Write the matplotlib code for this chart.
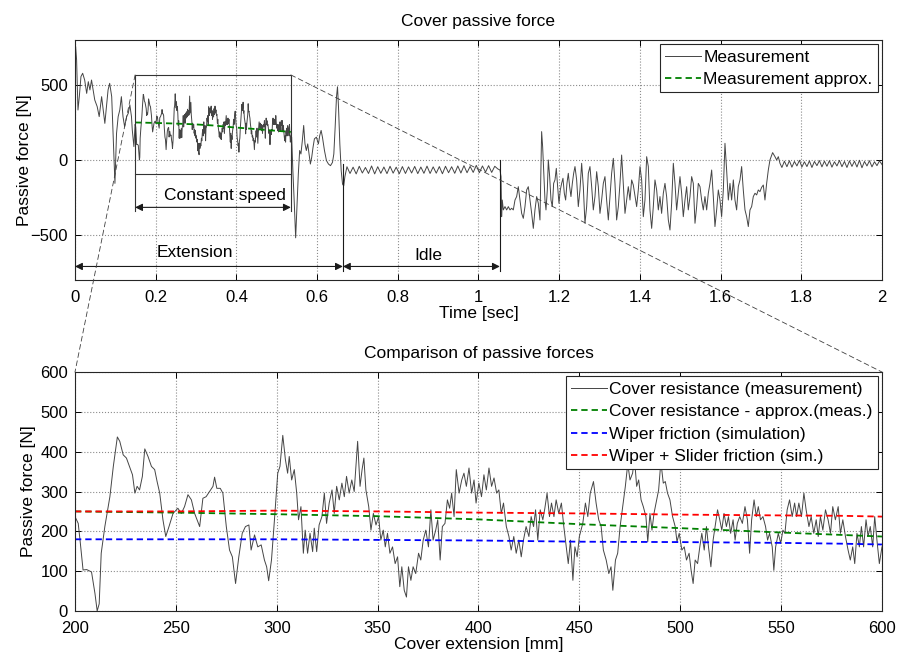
import numpy as np
import matplotlib
matplotlib.use('Agg')
import matplotlib.pyplot as plt
from matplotlib.patches import Rectangle, ConnectionPatch

plt.rcParams['font.family'] = ['Liberation Sans', 'DejaVu Sans']
plt.rcParams['font.size'] = 12

# ---------------- bottom chart data (cover extension [mm] vs force [N]) ----------------
ext_mm = [200, 201.6, 202.5, 204, 205.8, 208.2, 209.9, 211, 212, 213, 214.8, 217.3, 219, 221, 222.2, 223.9,
          225.5, 227, 228.5, 229.7, 230.8, 232, 233.4, 234.6, 236.2, 237.9, 239.5, 240.7, 242, 243.6, 245,
          246.6, 248.6, 251, 252.7, 254.3, 256, 257.7, 259.3, 261.8, 263.4, 265, 266.7, 268.4, 269.2, 270.3,
          272, 273.3, 275, 276.6, 278, 279.6, 281.2, 282.9, 284.5, 286.2, 287.3, 289, 290.6, 292.3, 293.9,
          295, 296, 297.4, 298.8, 300.5, 301.6, 303, 304.3, 305.4, 306.2, 307.4, 308.7, 309.9, 310.8, 312,
          313.2, 314.1, 315.3, 316.5, 317.8, 318.6, 319.8, 321, 322.4, 323.6, 324.7, 326, 327.4, 328.5, 329.7,
          331, 332.3, 333.5, 334.6, 335.9, 337.2, 338.4,
          340.1, 341.3, 342.3, 343.2, 344.2, 345.6, 346.7, 347.9, 349.2, 350.5, 351.6, 352.8, 353.8, 354.9,
          356.1, 357.4, 358.7, 359.9, 361, 362, 363.2, 364.3, 365.3, 366.5, 367.6, 368.9, 370.3, 371.4, 372.6,
          373.9, 375.2, 376.4, 377.5, 378.8, 379.8, 381, 382.1, 383.4, 384.6, 385.7, 386.7, 387.9, 389, 390.4,
          391.7, 392.8, 394, 395.3, 396.6, 397.8, 398.8, 400.2, 401.5, 402.7, 403.9, 405.2, 406.5, 407.7, 409,
          410.1, 411.3, 412.4, 413.8, 415.1, 416.2, 417.5, 418.7, 420, 421.2, 422.3, 423.6, 425, 426.1, 427.3,
          428.3, 429.4, 430.6, 431.9, 432.9, 434, 435.2, 436.2, 437.4, 438.5, 439.8, 441.1, 442.3, 443.5, 444.5,
          445.6, 446.8, 447.8, 448.9, 450,
          451.7, 453, 454.2, 455.4, 457, 458.3, 459.6, 460.8, 461.9, 463.3, 464.6, 465.7, 466.6, 467.9, 469,
          470.2, 471.5, 472.8, 474, 475.1, 476.4, 477.3, 478.4, 479.4, 480.6, 481.7, 483, 483.9, 485, 486, 487,
          488, 489.3, 490.4, 491.6, 492.6, 493.7, 494.9, 496.2, 497.5, 498.4, 499.5, 500.8, 502, 503.1, 504.4,
          505.4, 506.4, 507.4, 508.6, 509.7, 510.7, 511.9, 513, 514, 515.2, 516.3, 517.3, 518.5, 519.6, 520.6,
          521.7, 522.9, 523.9, 525, 526.2, 527.2, 528.3, 529.5, 530.8, 532.1, 533.3, 534.4, 535.4, 536.6, 537.7,
          538.7, 539.8, 541, 542.3, 543.3, 544.3, 545.6, 546.4, 547.3, 548.6, 549.8, 550.9, 551.9, 553, 554.2,
          555.5, 556.7, 557.7, 558.8, 560.1, 561.3, 562.4, 563.8, 564.9, 566.2, 567.4, 568.4, 569.5, 570.7, 572,
          573.3, 574.5, 575.6, 576.9, 578.3, 579.4, 580.6, 581.9, 583.2, 584.3, 585.5, 586.5, 587.6, 588.8,
          589.8, 590.9, 592.1, 593.1, 594.2, 595.4, 596.4, 597.5, 598.7, 600]
ext_force = [237, 220, 178, 103, 104, 98, 44, 0, 18, 145, 212, 287, 363, 437, 426, 392,
             384, 363, 342, 296, 313, 304, 338, 407, 388, 363, 355, 325, 296, 229, 187,
             212, 245, 258, 245, 262, 292, 279, 245, 212, 283, 287, 300, 313, 336, 308,
             308, 296, 212, 153, 136, 69, 136, 195, 212, 216, 153, 191, 161, 166, 128,
             111, 76, 128, 224, 346, 363, 441, 380, 346, 388, 329, 355, 296, 229, 262,
             145, 203, 145, 195, 149, 208, 149, 216, 237, 296, 220, 271, 304, 245, 313,
             279, 321, 287, 338, 296, 329, 300,
             426, 313, 355, 384, 304, 262, 203, 245, 216, 237, 178, 203, 161, 195,
             145, 161, 119, 136, 61, 111, 52, 35, 111, 77, 111, 94, 145, 128, 178,
             203, 161, 254, 178, 203, 229, 128, 212, 220, 279, 258, 296, 237, 355, 296,
             329, 346, 313, 359, 296, 329, 271, 321, 287, 342, 304, 359, 313, 334, 296,
             304, 245, 271, 212, 187, 153, 187, 145, 178, 136, 178, 212, 187, 237, 212,
             254, 178, 254, 229, 258, 296, 237, 271, 237, 279, 245, 271, 212, 161, 119,
             178, 77, 161, 136, 187,
             220, 271, 237, 296, 325, 271, 229, 212, 153, 128, 94, 111, 52, 128, 145,
             212, 262, 313, 370, 329, 346, 385, 313, 329, 279, 262, 237, 174, 245, 203, 245,
             271, 304, 375, 321, 325, 296, 279, 237, 212, 174, 195, 153, 161, 128, 145,
             102, 69, 128, 119, 161, 195, 153, 212, 161, 111, 178, 212, 254, 229, 203,
             245, 212, 237, 195, 229, 178, 220, 237, 220, 262, 229, 145, 229, 279, 237,
             262, 229, 237, 212, 178, 195, 161, 102, 161, 195, 170, 203, 195, 254, 279,
             237, 271, 237, 271, 237, 296, 254, 212, 237, 195, 229, 187, 237, 203, 254,
             229, 195, 262, 229, 262, 195, 229, 187, 153, 128, 161, 119, 195, 161,
             212, 161, 229, 187, 212, 161, 237, 178, 119, 161]

approx_mm = [200, 250, 300, 350, 400, 450, 500, 550, 600]
approx_force = [250, 247, 243, 238, 230, 218, 208, 197, 187]
wiper_mm = [200, 300, 400, 450, 500, 550, 580, 600]
wiper_force = [180, 180, 177, 174, 173, 171, 169, 167]
slider_mm = [200, 250, 300, 350, 400, 450, 500, 550, 580, 600]
slider_force = [250, 250, 252, 250, 247, 245, 242, 240, 239, 237]

# ---------------- top chart data (time [s] vs force [N]) ----------------
start_t = [0.000, 0.0016, 0.004, 0.0074, 0.0107, 0.0148, 0.019, 0.024, 0.029, 0.033, 0.037, 0.041, 0.045,
           0.049, 0.055, 0.060, 0.066, 0.070, 0.074, 0.078, 0.082, 0.086, 0.091, 0.095, 0.099, 0.103, 0.107,
           0.111, 0.115, 0.119, 0.123, 0.128, 0.132, 0.136, 0.140, 0.142, 0.146]
start_f = [500, 756, 667, 333, 422, 556, 578, 533, 444, 522, 467, 533, 467,
           400, 356, 289, 422, 333, 244, 356, 467, 511, 422, 133, -156, 178, 289,
           333, 422, 289, 222, 289, 311, 367, 289, 200, 89]

stop_t = [0.537, 0.540, 0.5436, 0.5469, 0.550, 0.5535, 0.5568, 0.560, 0.5635, 0.5668, 0.570, 0.5734, 0.5768,
          0.580, 0.5834, 0.5867, 0.590, 0.5934, 0.5983, 0.6033, 0.6066, 0.610, 0.6133, 0.6183, 0.6232, 0.6282,
          0.6332, 0.6382, 0.6415, 0.6448, 0.6481, 0.6506, 0.6531, 0.6564, 0.6598, 0.6631, 0.666, 0.669]
stop_f = [152, -72, -295, -519, -318, -94, 63, 40, 130, 230, 107, 63, 107,
          40, -27, 18, 85, 141, 152, 107, 163, 197, 152, 63, -4, -27,
          -38, -16, 40, 219, 421, 488, 353, 107, -72, -161, -173, -110]

idle_f = [-45, -90, -48, -93, -42, -87, -50, -90, -40, -93, -45, -89, -47, -91, -42, -88, -48, -92, -44, -90,
          -46, -87, -43, -91, -47, -89, -41, -90, -46, -88, -44, -92, -42, -85, -45, -89, -40, -87, -38, -85,
          -43, -83, -36, -85, -40, -81, -38, -83, -42, -60]

retract_t = [1.0533, 1.0558, 1.0574, 1.059, 1.0615, 1.0657, 1.0698, 1.074, 1.0781, 1.0822, 1.0863, 1.0905,
             1.0946, 1.0987, 1.1028, 1.107, 1.1111, 1.1152, 1.1194, 1.1235, 1.1276, 1.1318, 1.1359, 1.14,
             1.1442, 1.1483, 1.1524, 1.1565, 1.159, 1.1623, 1.1648, 1.1673, 1.1706, 1.1731, 1.1764, 1.1797,
             1.183, 1.1863, 1.1896, 1.1929, 1.1962, 1.1995, 1.2028, 1.2061, 1.2094, 1.2127, 1.216, 1.2193,
             1.2226, 1.2259, 1.2292, 1.2326, 1.2359, 1.2392, 1.2433, 1.2474, 1.2515, 1.2557, 1.2598, 1.2639,
             1.2681, 1.2722, 1.2763, 1.2805, 1.2846, 1.2887, 1.2929, 1.297, 1.3011, 1.3052, 1.3094, 1.3135,
             1.3176, 1.3218, 1.3259, 1.33, 1.3342, 1.3383, 1.3424, 1.3466, 1.3507, 1.3548, 1.3589, 1.3631,
             1.3672, 1.3713, 1.3755, 1.3796, 1.3837,
             1.3920, 1.3961, 1.4003, 1.4044, 1.4085, 1.4126, 1.4168, 1.4209, 1.425, 1.4292, 1.4333, 1.4374,
             1.4416, 1.4457, 1.4498, 1.4539, 1.4581, 1.4622, 1.4663, 1.4705, 1.4746, 1.4787, 1.4829, 1.487,
             1.4911, 1.4953, 1.4994, 1.5035, 1.5076, 1.5118, 1.5159, 1.52, 1.5242, 1.5283, 1.5324, 1.5366,
             1.5407, 1.5448, 1.549, 1.5531, 1.5572, 1.5613, 1.5655, 1.5696, 1.5737, 1.5779, 1.582, 1.5861,
             1.5903, 1.5944, 1.5985, 1.6026, 1.6068, 1.6109, 1.615, 1.6192, 1.6233, 1.6274, 1.6316, 1.6357,
             1.6398, 1.6439, 1.6481, 1.6522, 1.6563, 1.6605, 1.6646, 1.6687, 1.6729, 1.677, 1.6811, 1.6853,
             1.6894, 1.6935, 1.6976, 1.7018, 1.7059, 1.71, 1.7142, 1.7183, 1.7224, 1.729, 1.7348, 1.739,
             1.7431, 1.7472]
retract_f = [-67, -111, -378, -267, -333, -311, -333, -311, -333, -322, -333, -267,
             -244, -178, -267, -356, -389, -311, -200, -178, -267, -356, -456, -333,
             -244, -289, -400, 189, 89, -111, -267, -333, -200, 0, -111, -267,
             -311, -156, -133, -56, -178, -289, -200, -156, -122, -222, -267, -156,
             -89, -178, -244, -156, -89, -44, -133, -311, -200, -22, -178, -422,
             -311, -89, -44, -178, -333, -244, -78, -178, -356, -267, -156, -111,
             -267, -400, -244, -89, 11, -156, -400, -311, -156, 33, -156, -356,
             -267, -178, -267, -133, -167,
             -311, -200, -44, -133, -378, -267, 22, -44, -333, -456, -311, -133,
             -200, -333, -244, -356, -222, -156, -244, -400, -467, -289, -22, -156,
             -333, -222, -111, -222, -378, -267, -178, -333, -244, -111, -156, -422,
             -311, -156, -178, -267, -333, -244, -333, -222, -156, -67, -244, -444,
             -333, -200, -267, -378, -200, 111, -67, -267, -156, -267, -133, -267,
             -333, -178, -133, -44, -200, -333, -378, -444, -333, -311, -244, -222,
             -233, -200, -211, -182, -167, -267, -156, -67, 0, 49, 22, 0,
             22, -22]

rest_f = [-50, -8, -45, -5, -48, -10, -40, -2, -47, -12, -44, -6, -50, -10, -38, -4, -46, -8, -42, -5,
          -48, -12, -40, -3, -45, -10, -50, -6, -43, -8, -47, -2, -52, -10, -40, -5, -46, -12, -38, -6, -30]

# ---------------- layout constants ----------------
box_t0, box_t1 = 0.149, 0.535
box_lo, box_hi = -96, 567
ext_end, idle_end = 0.664, 1.053

def mm_to_t(mm):
    return box_t0 + (np.asarray(mm, float) - 200.0) * (box_t1 - box_t0) / 400.0

idle_t = np.linspace(0.674, 1.048, len(idle_f))
rest_t = np.linspace(1.752, 2.0, len(rest_f))

top_t = np.concatenate([start_t, mm_to_t(ext_mm), stop_t, idle_t, retract_t, rest_t])
top_f = np.concatenate([start_f, ext_force, stop_f, idle_f, retract_f, rest_f])

meas_color = '#454545'
green = (0.0, 0.5, 0.0)
dash = (0, (3.5, 2.2))

fig = plt.figure(figsize=(9.1, 6.52), dpi=100)
ax1 = fig.add_axes([0.0824, 0.5706, 0.8868, 0.3681])
ax2 = fig.add_axes([0.0824, 0.0629, 0.8868, 0.3665])

for ax in (ax1, ax2):
    ax.grid(True, linestyle=':', color='0.55', linewidth=0.8)
    ax.tick_params(direction='in', top=True, right=True, length=4, width=0.7, labelsize=12)
    ax.tick_params(axis='x', pad=7)
    ax.tick_params(axis='y', pad=5)
    for s in ax.spines.values():
        s.set_linewidth(0.8)
        s.set_color('0.15')
    ax.set_axisbelow(True)

legend_kw = dict(loc='upper right', fontsize=12.5, frameon=True, fancybox=False, framealpha=1,
                 edgecolor='0.15', handlelength=2.1, handletextpad=0.1, borderpad=0.3,
                 labelspacing=0.42, borderaxespad=0.25)

# ---- top ----
ax1.plot(top_t, top_f, color=meas_color, lw=0.7, label='Measurement')
ax1.plot(mm_to_t(approx_mm), approx_force, color=green, lw=1.3, ls=dash, label='Measurement approx.')
ax1.set_xlim(0, 2)
ax1.set_ylim(-800, 800)
ax1.set_xticks(np.arange(0, 2.01, 0.2))
ax1.set_xticklabels(['0', '0.2', '0.4', '0.6', '0.8', '1', '1.2', '1.4', '1.6', '1.8', '2'])
ax1.set_yticks([-500, 0, 500])
ax1.set_title('Cover passive force', fontsize=12.5, pad=10)
ax1.set_xlabel('Time [sec]', fontsize=12.5, labelpad=1)
ax1.set_ylabel('Passive force [N]', fontsize=12.5, labelpad=-1)

ax1.add_patch(Rectangle((box_t0, box_lo), box_t1 - box_t0, box_hi - box_lo, fill=False,
                        lw=0.8, edgecolor='0.2', zorder=3))
ax1.plot([box_t0, box_t0], [box_lo, -340], color='0.2', lw=0.8)
ax1.plot([box_t1, box_t1], [box_lo, -340], color='0.2', lw=0.8)
ax1.plot([ext_end, ext_end], [-30, -740], color='0.1', lw=0.8)
ax1.plot([idle_end, idle_end], [0, -740], color='0.1', lw=0.8)

arrow = dict(arrowstyle='<|-|>', lw=0.8, color='0.1', mutation_scale=11, shrinkA=0, shrinkB=0)
ax1.annotate('', xy=(box_t0, -316), xytext=(box_t1, -316), arrowprops=arrow)
ax1.annotate('', xy=(0, -710), xytext=(ext_end, -710), arrowprops=arrow)
ax1.annotate('', xy=(ext_end, -710), xytext=(idle_end, -710), arrowprops=arrow)
ax1.text(0.372, -238, 'Constant speed', ha='center', va='center', fontsize=12.5)
ax1.text(0.297, -618, 'Extension', ha='center', va='center', fontsize=12.5)
ax1.text(0.875, -640, 'Idle', ha='center', va='center', fontsize=12.5)

leg1 = ax1.legend(**legend_kw)
leg1.get_frame().set_linewidth(0.8)

# ---- bottom ----
ax2.plot(ext_mm, ext_force, color=meas_color, lw=0.7, label='Cover resistance (measurement)')
ax2.plot(approx_mm, approx_force, color=green, lw=1.3, ls=dash, label='Cover resistance - approx.(meas.)')
ax2.plot(wiper_mm, wiper_force, color=(0, 0, 1), lw=1.3, ls=dash, label='Wiper friction (simulation)')
ax2.plot(slider_mm, slider_force, color=(1, 0, 0), lw=1.3, ls=dash, label='Wiper + Slider friction (sim.)')
ax2.set_xlim(200, 600)
ax2.set_ylim(0, 600)
ax2.set_xticks(np.arange(200, 601, 50))
ax2.set_yticks(np.arange(0, 601, 100))
ax2.set_title('Comparison of passive forces', fontsize=12.5, pad=10)
ax2.set_xlabel('Cover extension [mm]', fontsize=12.5, labelpad=1)
ax2.set_ylabel('Passive force [N]', fontsize=12.5, labelpad=3)

leg2 = ax2.legend(**legend_kw)
leg2.get_frame().set_linewidth(0.8)

# ---- zoom connector lines ----
for xa, xb in ((box_t0, 0), (box_t1, 1)):
    con = ConnectionPatch(xyA=(xa, box_hi), coordsA=ax1.transData, xyB=(xb, 1), coordsB=ax2.transAxes,
                          color='0.25', lw=0.6, ls=(0, (6, 4)))
    fig.add_artist(con)

fig.savefig('out.png', dpi=100)
